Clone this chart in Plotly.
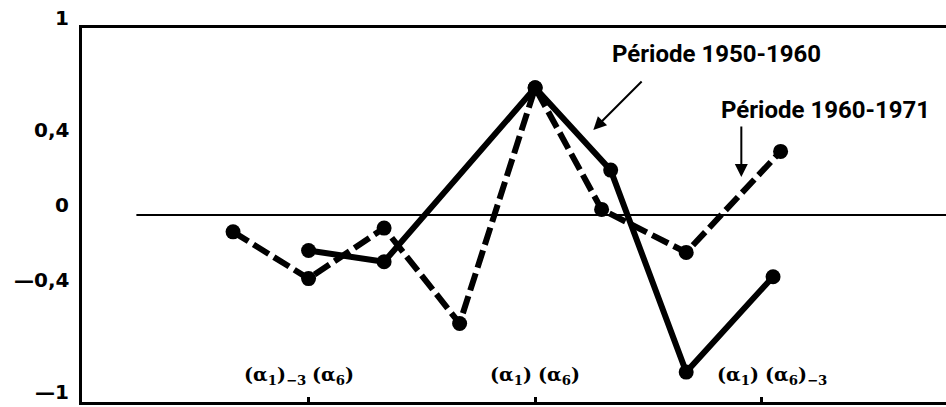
import plotly.graph_objects as go

# Cross-correlation by lag for the two periods
lag_1960_1971 = [-4, -3, -2, -1, 0, 0.88, 2, 3.25]
corr_1960_1971 = [-0.09, -0.34, -0.07, -0.58, 0.68, 0.03, -0.20, 0.34]

lag_1950_1960 = [-3, -2, 0, 1, 2, 3.15]
corr_1950_1960 = [-0.19, -0.25, 0.68, 0.24, -0.84, -0.33]

# Lag ticks and their two-part labels (left of tick / right of tick)
tick_lags = [-3, 0, 3]
tick_left = ["(α<sub>1</sub>)<sub>−3</sub>", "(α<sub>1</sub>)", "(α<sub>1</sub>)"]
tick_right = ["(α<sub>6</sub>)", "(α<sub>6</sub>)", "(α<sub>6</sub>)<sub>−3</sub>"]

y_ticks = [1, 0.4, 0, -0.4, -1]
y_tick_text = ["1", "0,4", "0", "—0,4", "—1"]

x_range = [-6, 5.44]
y_range = [-1, 1]
zero_start = -5.28

BLACK = "#000000"

fig = go.Figure()

fig.add_trace(go.Scatter(
    x=lag_1960_1971, y=corr_1960_1971, mode="lines+markers",
    line=dict(color=BLACK, width=6, dash="18px,6px"),
    marker=dict(color=BLACK, size=15),
    name="Période 1960-1971", showlegend=False,
))
fig.add_trace(go.Scatter(
    x=lag_1950_1960, y=corr_1950_1960, mode="lines+markers",
    line=dict(color=BLACK, width=6),
    marker=dict(color=BLACK, size=15),
    name="Période 1950-1960", showlegend=False,
))

# zero reference line
fig.add_shape(type="line", xref="x", yref="y",
              x0=zero_start, x1=x_range[1], y0=0, y1=0,
              line=dict(color=BLACK, width=2), layer="below")

label_font = dict(family="Roboto", size=24, color=BLACK, weight="bold")
fig.add_annotation(x=2.40, y=0.861, text="Période 1950-1960", showarrow=False,
                   font=label_font, xanchor="center", yanchor="middle")
fig.add_annotation(x=3.84, y=0.56, text="Période 1960-1971", showarrow=False,
                   font=label_font, xanchor="center", yanchor="middle")

arrow = dict(text="", showarrow=True, axref="x", ayref="y",
             arrowhead=2, arrowsize=1.3, arrowwidth=2, arrowcolor=BLACK)
fig.add_annotation(x=0.77, y=0.455, ax=1.43, ay=0.722, **arrow)
fig.add_annotation(x=2.73, y=0.203, ax=2.73, ay=0.481, **arrow)

# lag labels sit just above the bottom axis, split around each tick
tick_font = dict(family="DejaVu Serif", size=19, color=BLACK, weight="bold")
for lag, left, right in zip(tick_lags, tick_left, tick_right):
    fig.add_annotation(x=lag, y=-1, text=left, showarrow=False, font=tick_font,
                       xanchor="right", yanchor="bottom", xshift=-1, yshift=12)
    fig.add_annotation(x=lag, y=-1, text=right, showarrow=False, font=tick_font,
                       xanchor="left", yanchor="bottom", xshift=1, yshift=12)

# value labels on the left, set slightly above their levels
value_font = dict(family="DejaVu Sans", size=20, color=BLACK, weight="bold")
for val, txt in zip(y_ticks, y_tick_text):
    fig.add_annotation(xref="paper", x=0, y=val, text=txt, showarrow=False,
                       font=value_font, xanchor="right", yanchor="middle",
                       xshift=-11, yshift=10)

fig.update_layout(
    width=946, height=407,
    margin=dict(l=82, r=0, t=28, b=5),
    paper_bgcolor="white", plot_bgcolor="white",
    xaxis=dict(range=x_range, showgrid=False, zeroline=False,
               showline=True, mirror=True, linecolor=BLACK, linewidth=3,
               tickvals=tick_lags, showticklabels=False,
               ticks="inside", ticklen=5, tickwidth=3, tickcolor=BLACK),
    xaxis2=dict(range=x_range, overlaying="x", matches="x", side="bottom",
                showgrid=False, zeroline=False, showline=False,
                tickvals=tick_lags, showticklabels=False,
                ticks="outside", ticklen=6, tickwidth=3, tickcolor=BLACK),
    yaxis=dict(range=y_range, showgrid=False, zeroline=False,
               showline=True, linecolor=BLACK, linewidth=3,
               tickvals=y_ticks, showticklabels=False, ticks=""),
)

fig.write_html("out.html")
